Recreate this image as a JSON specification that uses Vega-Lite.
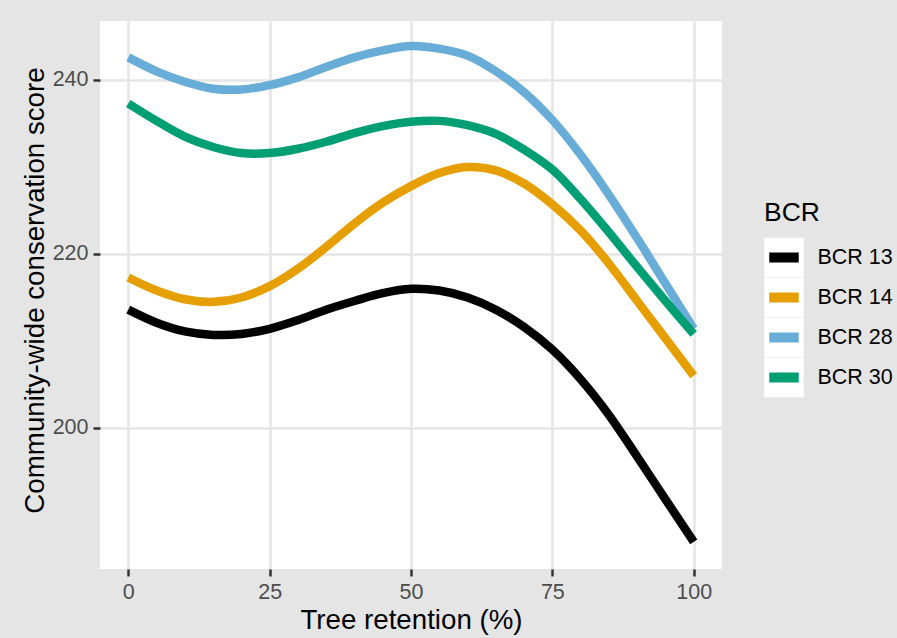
{
  "$schema": "https://vega.github.io/schema/vega-lite/v6.json",
  "width": 622,
  "height": 548,
  "autosize": {"type": "none"},
  "padding": {"left": 100, "top": 21, "right": 175, "bottom": 69},
  "background": "#E5E5E5",
  "config": {
    "view": {"fill": "white", "stroke": null},
    "font": "Liberation Sans",
    "axis": {
      "domain": false,
      "gridColor": "#E5E5E5",
      "gridWidth": 2.5,
      "tickColor": "#333333",
      "tickWidth": 2.5,
      "tickSize": 7,
      "labelPadding": 5,
      "labelColor": "#4D4D4D",
      "labelFontSize": 21.5,
      "labelFont": "Liberation Sans",
      "titleFont": "Liberation Sans",
      "titleFontSize": 27.7,
      "titleFontWeight": "normal",
      "titleColor": "black"
    }
  },
  "data": {
    "values": [
      {"BCR": "BCR 13", "retention": 0, "score": 213.6},
      {"BCR": "BCR 13", "retention": 5, "score": 212.1},
      {"BCR": "BCR 13", "retention": 10, "score": 211.1},
      {"BCR": "BCR 13", "retention": 15, "score": 210.7},
      {"BCR": "BCR 13", "retention": 20, "score": 210.8},
      {"BCR": "BCR 13", "retention": 25, "score": 211.4},
      {"BCR": "BCR 13", "retention": 30, "score": 212.4},
      {"BCR": "BCR 13", "retention": 35, "score": 213.6},
      {"BCR": "BCR 13", "retention": 40, "score": 214.6},
      {"BCR": "BCR 13", "retention": 45, "score": 215.5},
      {"BCR": "BCR 13", "retention": 50, "score": 216.0},
      {"BCR": "BCR 13", "retention": 55, "score": 215.8},
      {"BCR": "BCR 13", "retention": 60, "score": 215.0},
      {"BCR": "BCR 13", "retention": 65, "score": 213.6},
      {"BCR": "BCR 13", "retention": 70, "score": 211.6},
      {"BCR": "BCR 13", "retention": 75, "score": 209.0},
      {"BCR": "BCR 13", "retention": 80, "score": 205.6},
      {"BCR": "BCR 13", "retention": 85, "score": 201.5},
      {"BCR": "BCR 13", "retention": 90, "score": 196.7},
      {"BCR": "BCR 13", "retention": 95, "score": 191.8},
      {"BCR": "BCR 13", "retention": 100, "score": 186.9},
      {"BCR": "BCR 14", "retention": 0, "score": 217.3},
      {"BCR": "BCR 14", "retention": 5, "score": 215.8},
      {"BCR": "BCR 14", "retention": 10, "score": 214.8},
      {"BCR": "BCR 14", "retention": 15, "score": 214.5},
      {"BCR": "BCR 14", "retention": 20, "score": 215.0},
      {"BCR": "BCR 14", "retention": 25, "score": 216.3},
      {"BCR": "BCR 14", "retention": 30, "score": 218.3},
      {"BCR": "BCR 14", "retention": 35, "score": 220.8},
      {"BCR": "BCR 14", "retention": 40, "score": 223.5},
      {"BCR": "BCR 14", "retention": 45, "score": 225.9},
      {"BCR": "BCR 14", "retention": 50, "score": 227.8},
      {"BCR": "BCR 14", "retention": 55, "score": 229.3},
      {"BCR": "BCR 14", "retention": 60, "score": 230.0},
      {"BCR": "BCR 14", "retention": 65, "score": 229.6},
      {"BCR": "BCR 14", "retention": 70, "score": 228.1},
      {"BCR": "BCR 14", "retention": 75, "score": 225.7},
      {"BCR": "BCR 14", "retention": 80, "score": 222.7},
      {"BCR": "BCR 14", "retention": 85, "score": 218.9},
      {"BCR": "BCR 14", "retention": 90, "score": 214.6},
      {"BCR": "BCR 14", "retention": 95, "score": 210.3},
      {"BCR": "BCR 14", "retention": 100, "score": 206.0},
      {"BCR": "BCR 28", "retention": 0, "score": 242.6},
      {"BCR": "BCR 28", "retention": 5, "score": 241.0},
      {"BCR": "BCR 28", "retention": 10, "score": 239.8},
      {"BCR": "BCR 28", "retention": 15, "score": 239.0},
      {"BCR": "BCR 28", "retention": 20, "score": 238.9},
      {"BCR": "BCR 28", "retention": 25, "score": 239.4},
      {"BCR": "BCR 28", "retention": 30, "score": 240.3},
      {"BCR": "BCR 28", "retention": 35, "score": 241.5},
      {"BCR": "BCR 28", "retention": 40, "score": 242.6},
      {"BCR": "BCR 28", "retention": 45, "score": 243.4},
      {"BCR": "BCR 28", "retention": 50, "score": 243.9},
      {"BCR": "BCR 28", "retention": 55, "score": 243.6},
      {"BCR": "BCR 28", "retention": 60, "score": 242.8},
      {"BCR": "BCR 28", "retention": 65, "score": 241.0},
      {"BCR": "BCR 28", "retention": 70, "score": 238.6},
      {"BCR": "BCR 28", "retention": 75, "score": 235.4},
      {"BCR": "BCR 28", "retention": 80, "score": 231.4},
      {"BCR": "BCR 28", "retention": 85, "score": 226.8},
      {"BCR": "BCR 28", "retention": 90, "score": 221.8},
      {"BCR": "BCR 28", "retention": 95, "score": 216.6},
      {"BCR": "BCR 28", "retention": 100, "score": 211.4},
      {"BCR": "BCR 30", "retention": 0, "score": 237.3},
      {"BCR": "BCR 30", "retention": 5, "score": 235.3},
      {"BCR": "BCR 30", "retention": 10, "score": 233.5},
      {"BCR": "BCR 30", "retention": 15, "score": 232.3},
      {"BCR": "BCR 30", "retention": 20, "score": 231.6},
      {"BCR": "BCR 30", "retention": 25, "score": 231.6},
      {"BCR": "BCR 30", "retention": 30, "score": 232.1},
      {"BCR": "BCR 30", "retention": 35, "score": 232.9},
      {"BCR": "BCR 30", "retention": 40, "score": 233.9},
      {"BCR": "BCR 30", "retention": 45, "score": 234.7},
      {"BCR": "BCR 30", "retention": 50, "score": 235.2},
      {"BCR": "BCR 30", "retention": 55, "score": 235.3},
      {"BCR": "BCR 30", "retention": 60, "score": 234.8},
      {"BCR": "BCR 30", "retention": 65, "score": 233.8},
      {"BCR": "BCR 30", "retention": 70, "score": 232.0},
      {"BCR": "BCR 30", "retention": 75, "score": 229.7},
      {"BCR": "BCR 30", "retention": 80, "score": 226.3},
      {"BCR": "BCR 30", "retention": 85, "score": 222.5},
      {"BCR": "BCR 30", "retention": 90, "score": 218.5},
      {"BCR": "BCR 30", "retention": 95, "score": 214.6},
      {"BCR": "BCR 30", "retention": 100, "score": 210.8}
    ]
  },
  "encoding": {
    "x": {
      "field": "retention",
      "type": "quantitative",
      "scale": {"domain": [-5, 105], "nice": false, "zero": false},
      "axis": {
        "values": [0, 25, 50, 75, 100],
        "title": "Tree retention (%)",
        "labelAngle": 0,
        "labelFlush": false,
        "titleBaseline": "alphabetic",
        "titleY": 59
      }
    },
    "y": {
      "field": "score",
      "type": "quantitative",
      "scale": {"domain": [183.79, 246.78], "nice": false, "zero": false},
      "axis": {
        "values": [200, 220, 240],
        "title": "Community-wide conservation score",
        "labelFlush": false,
        "titleBaseline": "alphabetic",
        "titleX": -57,
        "titleY": 269
      }
    }
  },
  "layer": [
    {
      "mark": {"type": "point", "shape": "square", "filled": true, "opacity": 0},
      "encoding": {
        "fill": {
          "field": "BCR",
          "type": "nominal",
          "scale": {"domain": ["BCR 30", "BCR 28", "BCR 14", "BCR 13"], "range": ["white", "white", "white", "white"]},
          "legend": {
            "title": "BCR",
            "orient": "none",
            "legendX": 664,
            "legendY": 179,
            "symbolType": "square",
            "symbolSize": 1560,
            "symbolStrokeWidth": 0,
            "symbolOpacity": 1,
            "labelExpr": "''",
            "labelFontSize": 21.5,
            "rowPadding": 0,
            "titleFont": "Liberation Sans",
            "titleFontSize": 26.5,
            "titleFontWeight": "normal",
            "titleColor": "black",
            "titlePadding": 11
          }
        }
      }
    },
    {
      "mark": {"type": "line", "strokeWidth": 8.5, "interpolate": "catmull-rom", "strokeCap": "butt"},
      "encoding": {
        "color": {
          "field": "BCR",
          "type": "nominal",
          "scale": {"range": ["#000000", "#E69F00", "#68ACD8", "#009E73"]},
          "legend": {
            "title": "BCR",
            "orient": "none",
            "legendX": 664,
            "legendY": 179,
            "symbolType": "stroke",
            "symbolSize": 870,
            "symbolStrokeWidth": 10,
            "symbolOpacity": 1,
            "labelFont": "Liberation Sans",
            "labelFontSize": 21.5,
            "labelColor": "black",
            "labelOffset": 13.5,
            "rowPadding": 0,
            "titleFont": "Liberation Sans",
            "titleFontSize": 26.5,
            "titleFontWeight": "normal",
            "titleOpacity": 0,
            "titlePadding": 11
          }
        }
      }
    }
  ]
}
